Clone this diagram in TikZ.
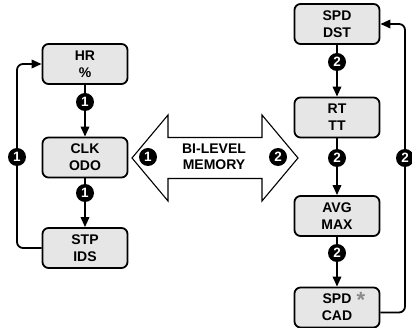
\documentclass[tikz,border=0pt]{standalone}
\usepackage{fontspec}
\setmainfont{Liberation Sans}
\usetikzlibrary{arrows.meta,calc}
\definecolor{boxgray}{HTML}{E6E6E6}
\definecolor{astgray}{HTML}{8A8A8A}
\begin{document}
\begin{tikzpicture}[x=1pt,y=1pt,
  modebox/.style={draw=black,line width=1.8pt,fill=boxgray,rounded corners=6pt,
    minimum width=85pt,minimum height=40pt,inner sep=0pt,align=center,
    font=\bfseries\fontsize{14}{17}\selectfont},
  badge/.style={circle,fill=black,inner sep=0pt,minimum size=18pt,text=white,
    font=\bfseries\fontsize{13.5}{13.5}\selectfont},
  conn/.style={line width=1.8pt,-{Triangle[length=10pt,width=8.5pt]}},
  loopconn/.style={conn,rounded corners=6pt},
  bigarrow/.style={draw=black,line width=1.1pt,fill=white,line join=miter}]
\useasboundingbox (0,0) rectangle (412,-328);
% left column
\node[modebox] (hr) at (85,-64) {HR\\\%};
\node[modebox] (clk) at (85,-157.5) {CLK\\ODO};
\node[modebox] (stp) at (85,-248) {STP\\IDS};
% right column
\node[modebox] (spd) at (337,-24) {SPD\\DST};
\node[modebox] (rt) at (337,-117.5) {RT\\TT};
\node[modebox] (avg) at (337,-216) {AVG\\MAX};
\node[modebox] (cad) at (337,-307.5) {SPD\\CAD};
\node[text=astgray,inner sep=0pt,font=\bfseries\fontsize{22}{22}\selectfont] (ast) at (361,-300) {*};
% connectors
\draw[conn] (hr.south) -- (clk.north);
\draw[conn] (clk.south) -- (stp.north);
\coordinate (lcorner) at (17,-248);
\draw[loopconn] (stp.west) -- (lcorner) |- (hr.west);
\draw[conn] (spd.south) -- (rt.north);
\draw[conn] (rt.south) -- (avg.north);
\draw[conn] (avg.south) -- (cad.north);
\coordinate (rstart) at ($(cad.east)+(0,-5)$);
\coordinate (rcorner) at (405,-312.5);
\draw[loopconn] (rstart) -- (rcorner) |- (spd.east);
% badges
\node[badge] (b1) at (85,-102) {1};
\node[badge] (b2) at (85,-193) {1};
\node[badge] (b3) at (17,-157) {1};
\node[badge] (b4) at (337,-62) {2};
\node[badge] (b5) at (337,-158) {2};
\node[badge] (b6) at (337,-253) {2};
\node[badge] (b7) at (405,-158) {2};
% bi-level arrow
\draw[bigarrow] (132,-158) -- (168,-115) -- (168,-137.5) -- (262,-137.5) -- (262,-115)
  -- (298,-158) -- (262,-201) -- (262,-178.5) -- (168,-178.5) -- (168,-201) -- cycle;
\node[font=\bfseries\fontsize{14}{16}\selectfont,align=center] (mem) at (214,-157) {BI-LEVEL\\MEMORY};
\node[badge] (b8) at (148,-157) {1};
\node[badge] (b9) at (278,-157) {2};
\end{tikzpicture}
\end{document}
